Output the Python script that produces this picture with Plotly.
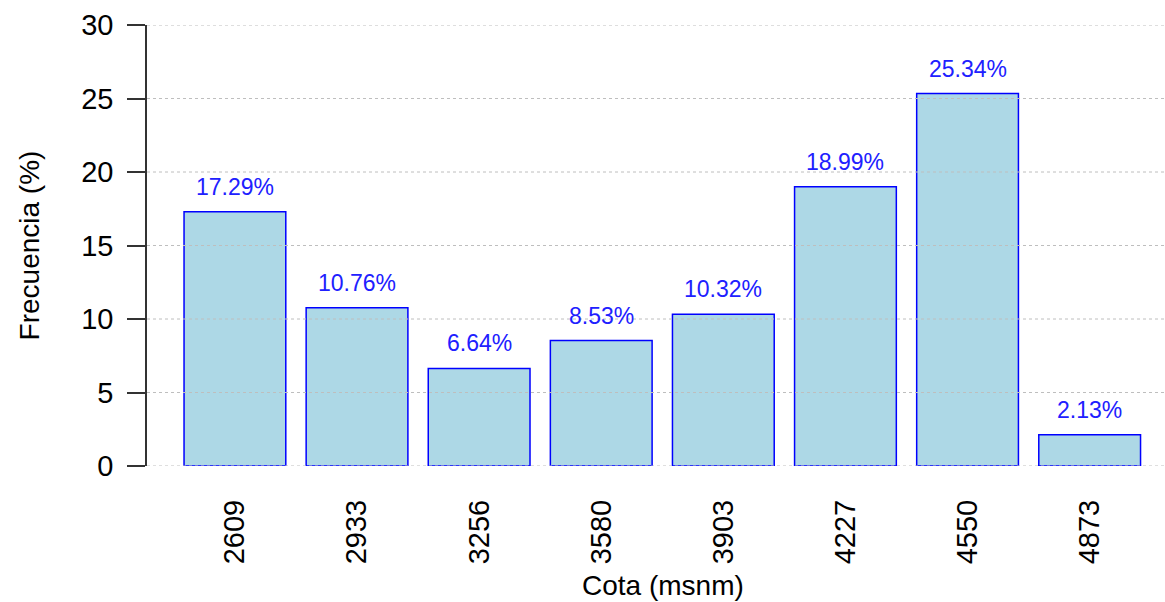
import plotly.graph_objects as go

# Elevation classes (m a.s.l.) and share of area in each class (%)
cotas = ["2609", "2933", "3256", "3580", "3903", "4227", "4550", "4873"]
frecuencia = [17.29, 10.76, 6.64, 8.53, 10.32, 18.99, 25.34, 2.13]
y_ticks = [0, 5, 10, 15, 20, 25, 30]

FONT = "Liberation Sans, Arial, sans-serif"
AXIS_COLOR = "#333333"

fig = go.Figure()
fig.add_trace(go.Bar(
    x=cotas,
    y=frecuencia,
    marker=dict(color="#ADD8E6", line=dict(color="#0000FF", width=1.5)),
    hoverinfo="x+y",
))

# Percentage labels above each bar (x given as category index)
annotations = [
    dict(x=i, y=v, xref="x", yref="y", text=f"{v:.2f}%", showarrow=False,
         yanchor="bottom", yshift=10, font=dict(family=FONT, size=23, color="#2020FF"))
    for i, v in enumerate(frecuencia)
]
# X axis title, centred on the full plotting region
annotations.append(dict(x=0.507, y=0, xref="paper", yref="paper", text="Cota (msnm)",
                        showarrow=False, yanchor="middle", yshift=-119,
                        font=dict(family=FONT, size=28, color="black")))

# Dotted horizontal reference lines drawn over the bars
shapes = [
    dict(type="line", xref="paper", yref="y", x0=0, x1=1, y0=t, y1=t, layer="above",
         line=dict(color="#BEBEBE", width=1, dash="3px,3px"))
    for t in y_ticks
]

fig.update_layout(
    width=1165, height=602,
    margin=dict(l=147, r=0, t=25, b=136),
    paper_bgcolor="white", plot_bgcolor="white",
    bargap=1 - 1 / 1.2,
    showlegend=False,
    annotations=annotations,
    shapes=shapes,
    font=dict(family=FONT, color="black"),
)
fig.update_xaxes(
    type="category",
    range=[-0.72, 7.617],
    showgrid=False, showline=False, zeroline=False, ticks="",
    tickangle=-90,
    tickfont=dict(family=FONT, size=29, color="black"),
    ticklabelstandoff=27,
)
fig.update_yaxes(
    range=[0, 30],
    tickvals=y_ticks,
    showgrid=False, zeroline=False,
    showline=True, linecolor=AXIS_COLOR, linewidth=1.5,
    ticks="outside", ticklen=18, tickwidth=1.5, tickcolor=AXIS_COLOR,
    tickfont=dict(family=FONT, size=29, color="black"),
    ticklabelstandoff=8,
    title=dict(text="Frecuencia (%)", font=dict(family=FONT, size=28, color="black"), standoff=33),
)

fig.write_html("out.html")
